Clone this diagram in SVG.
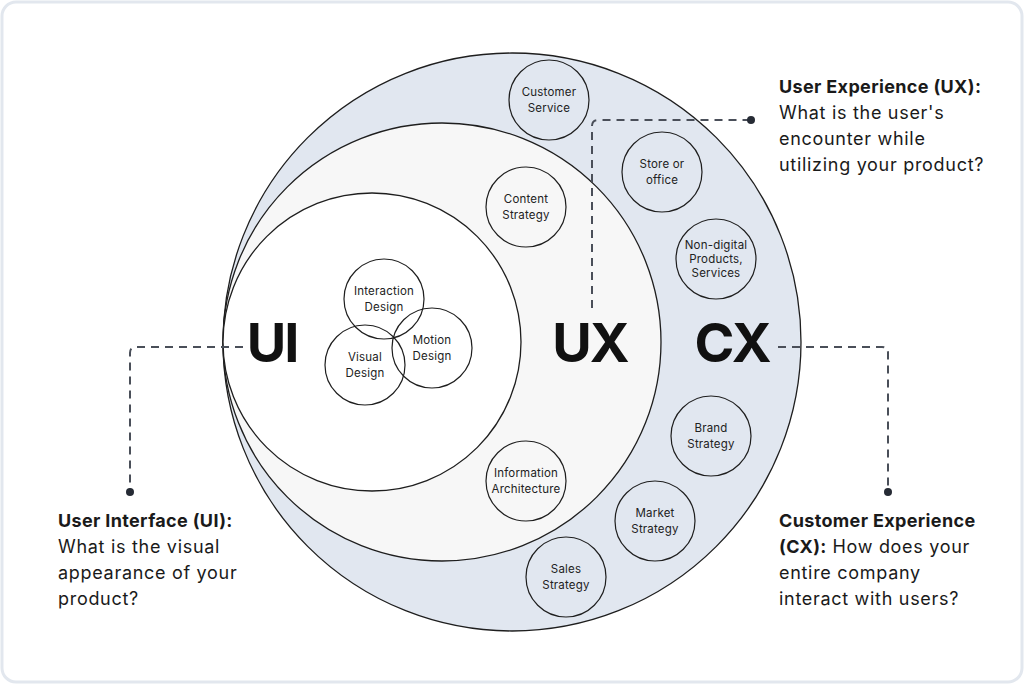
<svg xmlns="http://www.w3.org/2000/svg" width="1024" height="684" viewBox="0 0 1024 684">
<defs>
<style>
.frame{fill:#ffffff;stroke:#e2e7ee;stroke-width:3}
.ring{stroke:#1e1e1e;stroke-width:1.3}
.sc{fill:none;stroke:#1e1e1e;stroke-width:1.2}
.st{font-family:Inter,"Noto Sans",sans-serif;font-size:11.5px;letter-spacing:0.2px;fill:#222;text-anchor:middle}
.big{font-family:Inter,"Noto Sans",sans-serif;font-size:54px;font-weight:700;fill:#111;text-anchor:middle;letter-spacing:-2px}
.desc{font-family:Inter,"Noto Sans",sans-serif;font-size:18px;letter-spacing:0.7px;fill:#1a1a1a}
.b{font-weight:700;letter-spacing:0.35px}
.dash{fill:none;stroke:#4a4f59;stroke-width:2;stroke-dasharray:8 6}
.dot{fill:#262b35}
</style>
</defs>
<rect class="frame" x="2" y="2" width="1020" height="680" rx="14"/>
<g id="cx-circle"><circle class="ring" cx="512" cy="342" r="289" fill="#e1e7f0"/></g>
<g id="ux-circle"><circle class="ring" cx="442" cy="342" r="219" fill="#f7f7f7"/></g>
<g id="ui-circle"><circle class="ring" cx="372" cy="342" r="149" fill="#ffffff"/></g>

<g id="connectors">
<path class="dash" d="M243 347 H136 Q130 347 130 353 V490"/>
<circle class="dot" cx="130" cy="492" r="4"/>
<path class="dash" d="M592 308 V126 Q592 120 598 120 H748"/>
<circle class="dot" cx="751" cy="120" r="4"/>
<path class="dash" d="M778 347 H882 Q888 347 888 353 V490"/>
<circle class="dot" cx="888" cy="492" r="4"/>
</g>

<g id="label-ui"><text class="big" x="272" y="362">UI</text></g>
<g id="label-ux"><text class="big" x="590" y="362">UX</text></g>
<g id="label-cx"><text class="big" x="732" y="362">CX</text></g>

<g id="interaction-design"><circle class="sc" cx="384" cy="299" r="40"/><text class="st" x="384" y="295">Interaction</text><text class="st" x="384" y="311">Design</text></g>
<g id="visual-design"><circle class="sc" cx="365" cy="365" r="40"/><text class="st" x="365" y="361">Visual</text><text class="st" x="365" y="377">Design</text></g>
<g id="motion-design"><circle class="sc" cx="432" cy="348" r="40"/><text class="st" x="432" y="344">Motion</text><text class="st" x="432" y="360">Design</text></g>

<g id="content-strategy"><circle class="sc" cx="526" cy="207" r="40"/><text class="st" x="526" y="203">Content</text><text class="st" x="526" y="219">Strategy</text></g>
<g id="information-architecture"><circle class="sc" cx="526" cy="481" r="40"/><text class="st" x="526" y="477">Information</text><text class="st" x="526" y="493">Architecture</text></g>

<g id="customer-service"><circle class="sc" cx="549" cy="100" r="40"/><text class="st" x="549" y="96">Customer</text><text class="st" x="549" y="112">Service</text></g>
<g id="store-office"><circle class="sc" cx="662" cy="172" r="40"/><text class="st" x="662" y="168">Store or</text><text class="st" x="662" y="184">office</text></g>
<g id="non-digital"><circle class="sc" cx="716" cy="259" r="40"/><text class="st" x="716" y="249">Non-digital</text><text class="st" x="716" y="263">Products,</text><text class="st" x="716" y="277">Services</text></g>
<g id="brand-strategy"><circle class="sc" cx="711" cy="436" r="40"/><text class="st" x="711" y="432">Brand</text><text class="st" x="711" y="448">Strategy</text></g>
<g id="market-strategy"><circle class="sc" cx="655" cy="521" r="40"/><text class="st" x="655" y="517">Market</text><text class="st" x="655" y="533">Strategy</text></g>
<g id="sales-strategy"><circle class="sc" cx="566" cy="577" r="40"/><text class="st" x="566" y="573">Sales</text><text class="st" x="566" y="589">Strategy</text></g>

<g id="desc-ui">
<text class="desc b" x="58" y="527">User Interface (UI):</text>
<text class="desc" x="58" y="553">What is the visual</text>
<text class="desc" x="58" y="579">appearance of your</text>
<text class="desc" x="58" y="605">product?</text>
</g>
<g id="desc-ux">
<text class="desc b" x="779" y="93">User Experience (UX):</text>
<text class="desc" x="779" y="119">What is the user's</text>
<text class="desc" x="779" y="145">encounter while</text>
<text class="desc" x="779" y="171">utilizing your product?</text>
</g>
<g id="desc-cx">
<text class="desc b" x="779" y="527">Customer Experience</text>
<text class="desc" x="779" y="553"><tspan class="b">(CX):</tspan> How does your</text>
<text class="desc" x="779" y="579">entire company</text>
<text class="desc" x="779" y="605">interact with users?</text>
</g>
</svg>
